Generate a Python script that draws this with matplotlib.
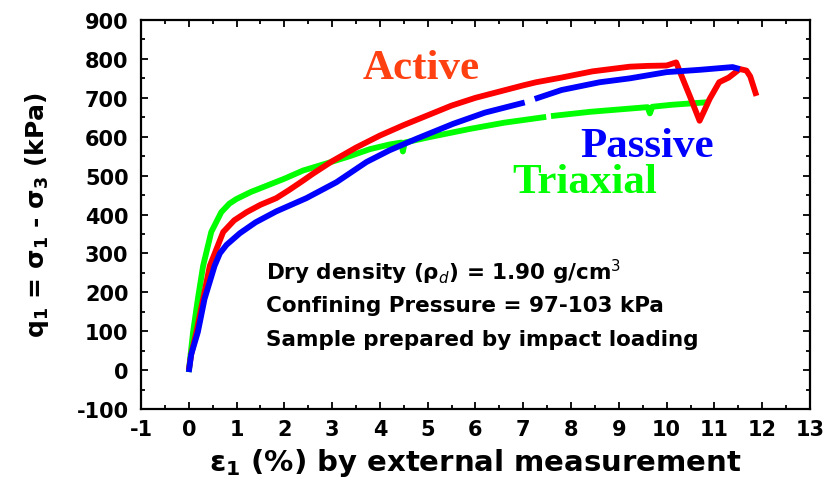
import matplotlib
matplotlib.use('Agg')
import matplotlib.pyplot as plt
from matplotlib.ticker import MultipleLocator
import numpy as np

# ---------- data ---------------------------------------------------

active_x = [0, 0.05, 0.16, 0.30, 0.44, 0.72, 0.95, 1.21, 1.5, 1.83, 2.1, 2.39, 2.6, 3.0,
            3.5, 4.0, 4.5, 5.0, 5.5, 6.0, 6.5, 7.0, 7.27, 7.8, 8.45, 9.23, 9.6, 10.0,
            10.2, 10.35, 10.5, 10.69, 10.8, 10.9, 11.1, 11.3, 11.53, 11.67, 11.75, 11.88]
active_q = [0, 40, 98, 183, 268, 355, 385, 406, 425, 442, 463, 487, 505, 537,
            572, 603, 630, 655, 680, 700, 716, 732, 740, 752, 768, 780, 782, 783,
            791, 745, 700, 641, 670, 697, 740, 752, 774, 770, 755, 705]

passive_x = [0, 0.05, 0.19, 0.33, 0.54, 0.65, 0.79, 1.07, 1.4, 1.83, 2.46, 3.09, 3.72, 4.2,
             4.77, 5.53, 6.2, 7.03, np.nan, 7.24, 7.8, 8.6, 9.23, 10.0, 10.7, 11.38, 11.53]
passive_q = [-5, 40, 98, 183, 268, 300, 322, 352, 380, 408, 442, 483, 535, 565,
             595, 633, 662, 688, np.nan, 697, 720, 740, 750, 766, 772, 779, 774]

triax_x = [0, 0.02, 0.09, 0.19, 0.30, 0.47, 0.68, 0.85, 1.0, 1.3, 1.63, 2.0, 2.39, 2.9,
           3.37, 3.79, 4.2, 4.45, 4.48, 4.52, 5.0, 5.88, 6.6, 7.48, np.nan, 7.58, 8.4,
           9.0, 9.6, 9.65, 9.7, 10.1, 10.9]
triax_q = [-5, 20, 98, 183, 268, 355, 406, 428, 440, 458, 474, 492, 513, 532,
           550, 568, 580, 585, 562, 585, 598, 620, 636, 651, np.nan, 653, 664,
           670, 676, 660, 677, 682, 689]

notes = ['Dry density (ρ$_d$) = 1.90 g/cm$^3$',
         'Confining Pressure = 97-103 kPa',
         'Sample prepared by impact loading']

# ---------- figure -------------------------------------------------

plt.rcParams['mathtext.fontset'] = 'dejavusans'
plt.rcParams['axes.unicode_minus'] = False

fig = plt.figure(figsize=(8.27, 4.85), dpi=100)
ax = fig.add_axes([0.1705, 0.1546, 0.8089, 0.8021])

lw = 4.2
ax.plot(triax_x, triax_q, color='#00ff00', lw=lw, solid_capstyle='butt')
ax.plot(active_x, active_q, color='#ff0000', lw=lw, solid_capstyle='butt')
ax.plot(passive_x, passive_q, color='#0000ff', lw=lw, solid_capstyle='butt')

ax.set_xlim(-1, 13)
ax.set_ylim(-100, 900)
ax.xaxis.set_major_locator(MultipleLocator(1))
ax.xaxis.set_minor_locator(MultipleLocator(0.5))
ax.yaxis.set_major_locator(MultipleLocator(100))
ax.yaxis.set_minor_locator(MultipleLocator(50))

ax.tick_params(which='both', direction='in', top=True, right=True, width=1.3)
ax.tick_params(which='major', length=5)
ax.tick_params(which='minor', length=3)
ax.tick_params(axis='y', which='major', pad=9)
ax.tick_params(axis='x', which='major', pad=7)
for lab in ax.get_xticklabels() + ax.get_yticklabels():
    lab.set_fontsize(15)
    lab.set_fontweight('bold')
for sp in ax.spines.values():
    sp.set_linewidth(1.6)

ax.set_xlabel('ε$_\\mathbf{1}$ (%) by external measurement', fontsize=21,
              fontweight='bold', labelpad=5)
ax.set_ylabel('q$_\\mathbf{1}$ = σ$_\\mathbf{1}$ - σ$_\\mathbf{3}$ (kPa)', fontsize=18,
              fontweight='bold', labelpad=18)

serif = 'Liberation Serif'
ax.text(4.87, 751, 'Active', color='#ff4010', fontsize=31, fontweight='bold',
        family=serif, ha='center', va='baseline')
ax.text(9.6, 550, 'Passive', color='#0000ff', fontsize=31, fontweight='bold',
        family=serif, ha='center', va='baseline')
ax.text(8.28, 458, 'Triaxial', color='#00ff00', fontsize=31, fontweight='bold',
        family=serif, ha='center', va='baseline')

for i, line in enumerate(notes):
    ax.text(1.61, 255 - 88 * i, line, fontsize=15.5, fontweight='bold',
            ha='left', va='center')

fig.savefig('out.png', dpi=100)
